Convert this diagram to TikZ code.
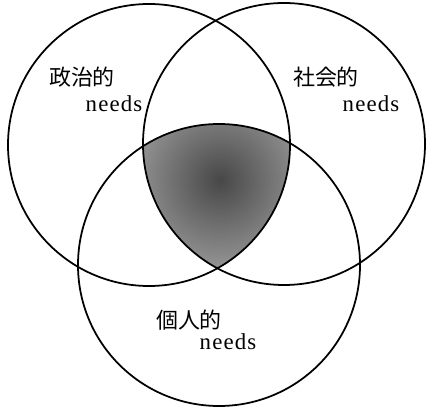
\documentclass[tikz,border=0pt]{standalone}
\usepackage{fontspec}
\setmainfont{Liberation Serif}
\newfontfamily\cjk{Noto Sans CJK JP}
\begin{document}
\begin{tikzpicture}[x=1cm,y=1cm,
  ring/.style={line width=1pt},
  jlabel/.style={font=\cjk\fontsize{12.5}{14}\selectfont, inner sep=0pt},
  nlabel/.style={font=\fontsize{13}{15}\selectfont\addfontfeature{LetterSpace=5}, inner sep=0pt}]
\useasboundingbox (0,0) rectangle (8.52,8.20);

\begin{scope}
\clip (2.98,5.30) circle (2.82);
\clip (5.68,5.32) circle (2.82);
\clip (4.38,2.90) circle (2.82);
\shade[inner color=black!72, outer color=black!42] (4.40,4.60) circle (1.75);
\end{scope}

\draw[ring] (2.98,5.30) circle (2.82);
\draw[ring] (5.68,5.32) circle (2.82);
\draw[ring] (4.38,2.90) circle (2.82);

\node[jlabel] (pol) at (1.64,6.66) {政治的};
\node[nlabel] (polneeds) at (2.28,6.12) {needs};

\node[jlabel] (soc) at (6.52,6.66) {社会的};
\node[nlabel] (socneeds) at (7.42,6.12) {needs};

\node[jlabel] (ind) at (3.78,1.80) {個人的};
\node[nlabel] (indneeds) at (4.56,1.36) {needs};
\end{tikzpicture}
\end{document}
